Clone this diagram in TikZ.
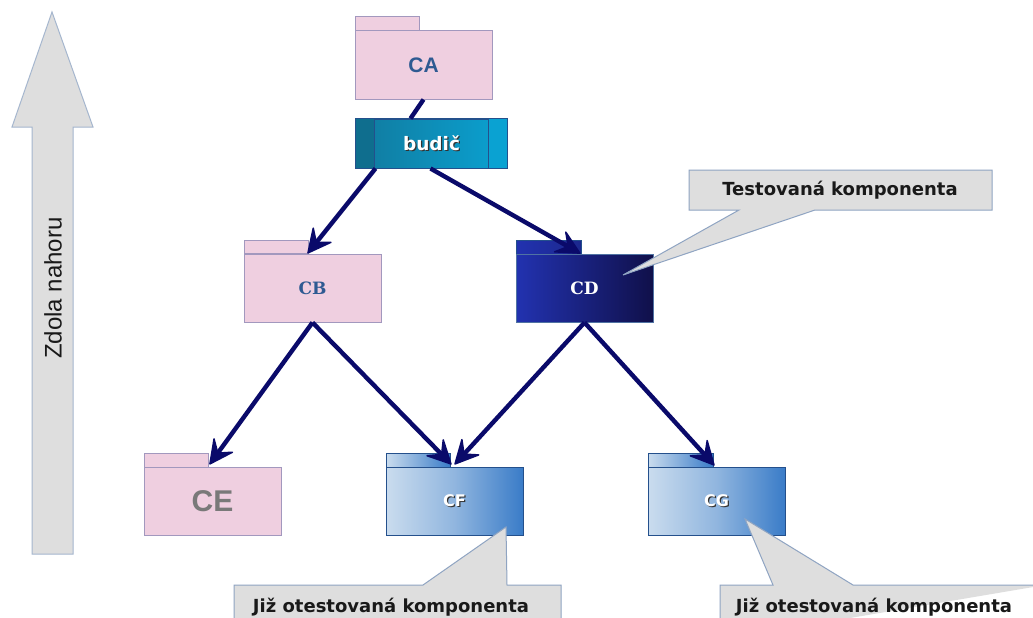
\documentclass[tikz,border=0pt]{standalone}
\usepackage{fontspec}
\setmainfont{DejaVu Sans}
\newfontfamily\arialfont{Liberation Sans}
\newfontfamily\vfont{DejaVu Sans}
\newfontfamily\serfont{DejaVu Serif}
\usetikzlibrary{arrows.meta,calc}

% white label with a dark drop shadow
\newcommand\shtext[1]{\leavevmode\rlap{\kern1.3pt\raisebox{-1.3pt}{\color{black!80}#1}}#1}

\definecolor{pinkfill}{HTML}{EFCFE0}
\definecolor{pinkline}{HTML}{A298BE}
\definecolor{navyline}{HTML}{0A0A6A}
\definecolor{calloutfill}{HTML}{DEDEDE}
\definecolor{calloutline}{HTML}{8FA4C2}
\definecolor{textblue}{HTML}{2E5A92}
\definecolor{cfleft}{HTML}{CADCEE}
\definecolor{cfright}{HTML}{3A7CC8}
\definecolor{cdleft}{HTML}{2232B0}
\definecolor{cdright}{HTML}{10104A}
\definecolor{bdleft}{HTML}{117A9E}
\definecolor{bdright}{HTML}{0AA2D2}
\definecolor{boxline}{HTML}{24508C}

\tikzset{
  folder/.style={rectangle, minimum width=137pt, minimum height=68pt, inner sep=0pt},
  pinkfolder/.style={folder, fill=pinkfill, draw=pinkline, line width=1pt},
  tab/.style={line width=1pt},
  link/.style={navyline, line width=4.4pt},
  dep/.style={link, -{Stealth[length=27pt, width=27pt, inset=11pt, line width=1.5pt, round]}},
  callout/.style={fill=calloutfill, draw=calloutline, line width=1pt},
  calltext/.style={font=\vfont\bfseries\fontsize{18}{20}\selectfont, text=black!90},
}

\begin{document}
\begin{tikzpicture}[x=1pt, y=-1pt]
\useasboundingbox (0,0) rectangle (1033,618);
\fill[white] (0,0) rectangle (1033,618);

% big upward arrow at the left
\draw[fill=calloutfill, draw=calloutline!80, line width=1pt]
  (52,12) -- (93,127) -- (73,127) -- (73,554) -- (32,554) -- (32,127) -- (12,127) -- cycle;
\node[rotate=90, font=\arialfont\fontsize{24}{26}\selectfont, text=black!90] (dir) at (53,288) {Zdola nahoru};

% folder CA
\draw[tab, fill=pinkfill, draw=pinkline] (355,31) rectangle (419,17);
\node[pinkfolder, font=\arialfont\bfseries\fontsize{21}{23}\selectfont, text=textblue] (CA) at (423.5,65) {CA};

% driver
\node[rectangle, minimum width=151pt, minimum height=49pt, inner sep=0pt,
      left color=bdleft, right color=bdright, draw=boxline, line width=1pt,
      font=\vfont\bfseries\fontsize{18.5}{20}\selectfont, text=white] (budic) at (431.5,143.5) {\shtext{budič}};
\fill[bdleft!90!black] ([xshift=0.5pt,yshift=-0.5pt]budic.north west) rectangle ([xshift=19pt,yshift=0.5pt]budic.south west);
\fill[bdright] ([xshift=-0.5pt,yshift=-0.5pt]budic.north east) rectangle ([xshift=-19pt,yshift=0.5pt]budic.south east);
\draw[boxline, line width=1pt] (budic.north west) rectangle (budic.south east);
\draw[boxline, line width=1pt] ([xshift=19pt]budic.north west) -- ([xshift=19pt]budic.south west);
\draw[boxline, line width=1pt] ([xshift=-19pt]budic.north east) -- ([xshift=-19pt]budic.south east);

% folder CB
\draw[tab, fill=pinkfill, draw=pinkline] (244,253) rectangle (308,240);
\node[pinkfolder, font=\serfont\bfseries\fontsize{17}{19}\selectfont, text=textblue] (CB) at (312.5,288) {CB};

% folder CD (component under test)
\draw[tab, left color=cdleft, right color=cdleft!80!black, draw=boxline] (516,254) rectangle (581,240);
\node[folder, left color=cdleft, right color=cdright, draw=boxline!80!white, line width=1pt,
      font=\serfont\bfseries\fontsize{17}{19}\selectfont, text=white] (CD) at (584.5,288) {CD};

% folder CE
\draw[tab, fill=pinkfill, draw=pinkline] (144,467) rectangle (208,453);
\node[pinkfolder, font=\arialfont\bfseries\fontsize{30}{32}\selectfont, text=gray!95!black] (CE) at (212.5,501) {CE};

% folders CF and CG (already tested)
\draw[tab, left color=cfleft, right color=cfright, draw=boxline] (386,467) rectangle (450,453);
\node[folder, left color=cfleft, right color=cfright, middle color=cfleft!60!cfright, draw=boxline, line width=1pt,
      font=\vfont\bfseries\fontsize{16}{18}\selectfont, text=white] (CF) at (454.5,501) {\shtext{CF}};
\draw[tab, left color=cfleft, right color=cfright, draw=boxline] (648,467) rectangle (713,453);
\node[folder, left color=cfleft, right color=cfright, middle color=cfleft!60!cfright, draw=boxline, line width=1pt,
      font=\vfont\bfseries\fontsize{16}{18}\selectfont, text=white] (CG) at (716.5,501) {\shtext{CG}};

% dependencies
\draw[link] (CA.south) -- ([xshift=-21pt]budic.north);
\draw[dep] ([xshift=-56pt]budic.south) -- ([xshift=64pt]CB.north west);
\draw[dep] ([xshift=-1pt]budic.south) -- ([xshift=65pt]CD.north west);
\draw[dep] (CB.south) -- ([xshift=66pt,yshift=2pt]CE.north west);
\draw[dep] (CB.south) -- ([xshift=66pt,yshift=2pt]CF.north west);
\draw[dep] (CD.south) -- ([xshift=69pt,yshift=2pt]CF.north west);
\draw[dep] (CD.south) -- ([xshift=67pt,yshift=1pt]CG.north west);

% callouts
\coordinate (tipCD) at (623,275);
\draw[callout] (689,170) -- (992,170) -- (992,210) -- (815,210) -- (tipCD) -- (739,210) -- (689,210) -- cycle;
\node[calltext] (tested) at (840,190) {Testovaná komponenta};

\coordinate (tipCF) at (506,527);
\draw[callout] (234,640) -- (234,585) -- (423,585) -- (tipCF) -- (507,585) -- (561,585) -- (561,640);
\node[calltext] (doneF) at (391,607) {Již otestovaná komponenta};

\coordinate (tipCG) at (745,519);
\draw[callout] (720,640) -- (720,585) -- (773,585) -- (tipCG) -- (853,585) -- (1045,585);
\node[calltext] (doneG) at (874,607) {Již otestovaná komponenta};
\end{tikzpicture}
\end{document}
